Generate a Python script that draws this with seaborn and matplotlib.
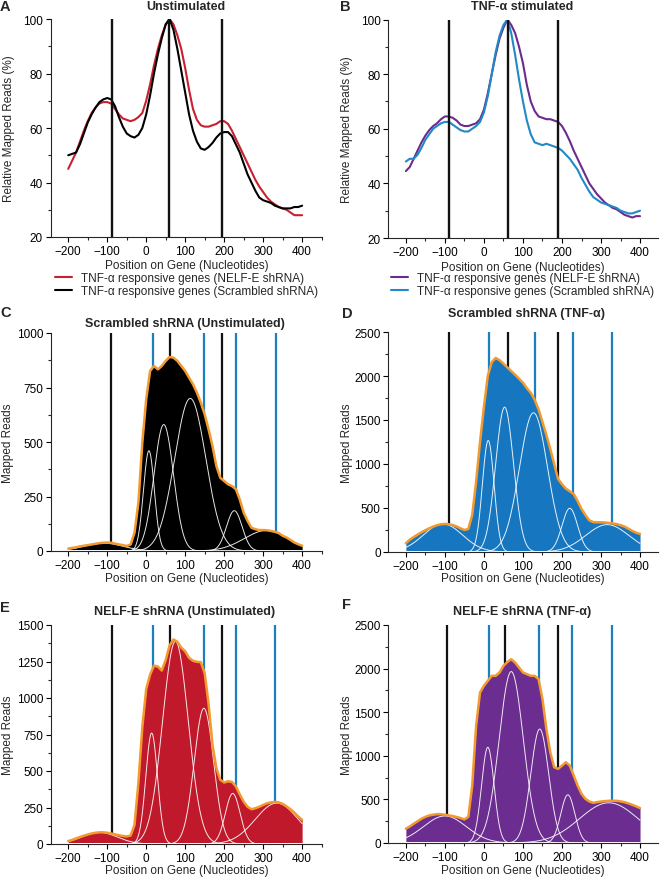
import numpy as np
import matplotlib
matplotlib.use("Agg")
import matplotlib.pyplot as plt
from matplotlib.ticker import MultipleLocator
import seaborn as sns

sns.set_theme(style="ticks")
plt.rcParams['font.family'] = ['Liberation Sans', 'DejaVu Sans']
plt.rcParams['axes.linewidth'] = 0.8

# positions on gene (nt), shared by every series
pos = list(range(-200, 401, 10))

# --- panel A: relative mapped reads, unstimulated ---
a_nelf = [45, 48, 51, 55, 59, 62.5, 65.5, 67.5, 69, 69.5,
          69.5, 69, 67, 65, 63.5, 63, 62.5, 63, 64, 65.5,
          70, 76, 83, 89, 94, 98, 100, 98, 94, 89,
          82, 74, 67, 63, 61, 60.5, 60.5, 61, 61.5, 62.5,
          62.5, 61.5, 59, 56, 53, 50, 47, 44, 41, 38.5,
          36.5, 34.5, 33, 32, 31, 30.5, 30, 29, 28, 28,
          28]
a_scr = [50, 50.5, 51, 54, 58, 62, 65, 67.5, 69.5, 70.5,
         71, 70.5, 68, 64, 60.5, 58, 57, 56.5, 57.5, 60,
         65, 72, 80, 87, 93, 98, 100, 96, 89, 81,
         73, 65, 59, 55, 52.5, 52, 53, 54.5, 56.5, 58,
         58.5, 58.5, 57, 54, 51, 47, 43, 40, 37, 34.5,
         33.5, 33, 32.5, 31.5, 31, 30.5, 30.5, 30.5, 31, 31,
         31.5]

# --- panel B: relative mapped reads, TNF-alpha stimulated ---
b_nelf = [44.5, 46, 49, 52, 55, 57.5, 59.5, 61, 62, 63.5,
          64.5, 64.5, 64, 63, 61.5, 61, 61, 61.5, 62, 63.5,
          67, 73, 80, 87, 93, 97, 100, 98, 95, 90,
          84, 76, 70, 66.5, 64.5, 64, 63.5, 63.5, 63, 62.5,
          61, 58.5, 55.5, 52, 49, 46, 43, 40, 38, 36,
          34.5, 33, 32, 31, 30.5, 29.5, 28.5, 28, 27.5, 28,
          28]
b_scr = [48, 49, 49, 50.5, 53, 56, 58, 60, 61, 62,
         62.5, 62.5, 61.5, 60.5, 59.5, 59, 59, 60, 61, 62.5,
         66, 72, 80, 88, 94, 98, 100, 95, 87, 78,
         70, 63, 58, 55, 54.5, 54, 54.5, 54, 53.5, 53,
         52, 50.5, 49, 47, 45, 42, 39.5, 37, 35, 34,
         33, 32.5, 32, 31.5, 31, 30, 29.5, 29, 29, 29.5,
         30]

# --- panels C-F: mapped reads ---
c_reads = [11, 14, 17, 21, 24, 27, 30, 33, 36, 38,
           39, 38, 34, 30, 27, 23, 30, 84, 222, 497,
           696, 826, 849, 833, 849, 872, 890, 887, 872, 849,
           826, 795, 765, 727, 681, 627, 558, 482, 390, 336,
           321, 306, 298, 283, 237, 176, 138, 107, 100, 96,
           96, 95, 92, 88, 82, 70, 62, 51, 39, 31,
           24]
d_reads = [100, 140, 170, 198, 224, 248, 270, 288, 305, 315,
           319, 316, 307, 290, 269, 250, 262, 420, 800, 1250,
           1650, 2004, 2157, 2205, 2180, 2140, 2098, 2055, 2014, 1970,
           1923, 1860, 1810, 1730, 1620, 1477, 1330, 1170, 1000, 830,
           770, 720, 690, 659, 580, 489, 420, 360, 340, 338,
           338, 336, 330, 325, 318, 305, 290, 265, 240, 220,
           205]
e_reads = [20, 28, 38, 48, 57, 65, 72, 77, 80, 80,
           77, 72, 66, 60, 55, 52, 58, 130, 420, 800,
           1062, 1160, 1222, 1215, 1188, 1260, 1360, 1401, 1385, 1345,
           1320, 1275, 1255, 1248, 1246, 1170, 960, 680, 520, 440,
           421, 430, 425, 395, 340, 290, 255, 238, 245, 255,
           268, 279, 285, 288, 285, 275, 258, 238, 215, 188,
           165]
f_reads = [164, 190, 221, 250, 278, 300, 316, 325, 331, 330,
           324, 317, 309, 298, 286, 270, 300, 659, 1345, 1726,
           1803, 1860, 1917, 1917, 1955, 2031, 2077, 2107, 2069, 2012,
           1955, 1936, 1917, 1917, 1879, 1650, 1307, 1040, 869, 850,
           888, 926, 888, 774, 659, 564, 507, 476, 461, 469,
           476, 480, 484, 484, 484, 477, 469, 455, 438, 420,
           400]

# fitted Gaussian components (centre, height, sigma)
c_centers = [-110, 7, 45, 113, 226, 310]
c_heights = [36, 460, 580, 700, 185, 95]
c_sigmas = [50, 14, 25, 40, 20, 58]
d_centers = [-105, 11, 53, 127, 220, 316]
d_heights = [320, 1267, 1646, 1582, 497, 311]
d_sigmas = [50, 15, 23, 36, 20, 55]
e_centers = [-120, 14, 75, 148, 222, 335]
e_heights = [80, 760, 1388, 930, 346, 280]
e_sigmas = [45, 15, 33, 25, 19, 55]
f_centers = [-100, 10, 70, 143, 215, 320]
f_heights = [310, 1098, 1966, 1307, 553, 461]
f_sigmas = [55, 16, 31, 23, 18, 75]

# marker positions (nt)
a_black = [-88, 58, 194]
b_black = [-90, 61, 189]
c_black = [-90, 60, 195]
c_blue = [17, 147, 231, 332]
d_black = [-89, 62, 189]
d_blue = [12, 130, 228, 329]
e_black = [-89, 60, 195]
e_blue = [18, 148, 231, 331]
f_black = [-95, 55, 189]
f_blue = [12, 142, 226, 327]

RED = '#c8202f'
PURPLE = '#6c2b8e'
LBLUE = '#2189c6'
ORANGE = '#f29a2e'
VBLUE = '#1b7fc4'
XLAB = "Position on Gene (Nucleotides)"

W, H = 660, 878
fig = plt.figure(figsize=(W / 100, H / 100), dpi=100)


def px_axes(left, top, right, bottom):
    return fig.add_axes([left / W, 1 - bottom / H, (right - left) / W, (bottom - top) / H])


def style(ax, xlim, ylim, ymaj, ymin, ylabel, ylab_x, xlab_y):
    ax.set_xlim(*xlim)
    ax.set_ylim(*ylim)
    ax.xaxis.set_major_locator(MultipleLocator(100))
    ax.xaxis.set_minor_locator(MultipleLocator(50))
    ax.yaxis.set_major_locator(MultipleLocator(ymaj))
    ax.yaxis.set_minor_locator(MultipleLocator(ymin))
    sns.despine(ax=ax)
    ax.tick_params(which='major', length=3.5, width=0.8, pad=2, labelsize=8.5,
                   direction='out', colors='black')
    ax.tick_params(which='minor', length=2.2, width=0.8, direction='out')
    ax.set_xlabel(XLAB, fontsize=8.5)
    ax.set_ylabel(ylabel, fontsize=8.5)
    ax.yaxis.set_label_coords(ylab_x, 0.5)
    ax.xaxis.set_label_coords(0.5, xlab_y)
    ax.grid(False)
    if ax.get_legend() is not None:
        ax.get_legend().remove()


def fig_text(x, y, s, **kw):
    fig.text(x / W, 1 - y / H, s, va='center', **kw)


def profile_panel(ax, nelf, scr, nelf_color, scr_color, blacks):
    for xv in blacks:
        ax.axvline(xv, color='#111111', lw=1.7, zorder=3)
    sns.lineplot(x=pos, y=nelf, color=nelf_color, lw=1.5, ax=ax, zorder=2,
                 label="TNF-\u03b1 responsive genes (NELF-E shRNA)")
    sns.lineplot(x=pos, y=scr, color=scr_color, lw=1.5, ax=ax, zorder=2,
                 label="TNF-\u03b1 responsive genes (Scrambled shRNA)")
    handles, labels = ax.get_legend_handles_labels()
    return handles, labels


def reads_panel(ax, reads, fill_color, centers, heights, sigmas, blacks, blues):
    for xv in blacks:
        ax.axvline(xv, color='#111111', lw=1.6, zorder=1)
    for xv in blues:
        ax.axvline(xv, color=VBLUE, lw=1.6, zorder=1)
    ax.fill_between(pos, reads, 0, color=fill_color, lw=0, zorder=2)
    xs = np.linspace(-200, 400, 601)
    for c, h, s in zip(centers, heights, sigmas):
        ax.plot(xs, h * np.exp(-0.5 * ((xs - c) / s) ** 2), color='white', lw=0.7,
                alpha=0.9, zorder=3)
    sns.lineplot(x=pos, y=reads, color=ORANGE, lw=1.8, ax=ax, zorder=4)


XL_L = (-245, 451)
XL_R = (-245, 446)
leg_kw = dict(loc='center left', frameon=False, borderpad=0, borderaxespad=0,
              handlelength=1.45, handletextpad=0.75, labelspacing=0.12, fontsize=8.5)

# A
axA = px_axes(50.7, 20, 322, 238)
hA, lA = profile_panel(axA, a_nelf, a_scr, RED, 'black', a_black)
style(axA, XL_L, (20, 100), 20, 10, "Relative Mapped Reads (%)", -0.132, -0.103)
fig.legend(hA, lA, bbox_to_anchor=(55 / W, 1 - 285.5 / H), **leg_kw)

# B
axB = px_axes(388.3, 20.5, 658, 239)
hB, lB = profile_panel(axB, b_nelf, b_scr, PURPLE, LBLUE, b_black)
style(axB, XL_R, (20, 100), 20, 10, "Relative Mapped Reads (%)", -0.131, -0.103)
fig.legend(hB, lB, bbox_to_anchor=(391 / W, 1 - 285.5 / H), **leg_kw)

# C
axC = px_axes(50.7, 334, 322, 552)
reads_panel(axC, c_reads, 'black', c_centers, c_heights, c_sigmas, c_black, c_blue)
style(axC, XL_L, (0, 1000), 250, 125, "Mapped Reads", -0.137, -0.096)

# D
axD = px_axes(388.3, 333, 658, 553)
reads_panel(axD, d_reads, '#1776c0', d_centers, d_heights, d_sigmas, d_black, d_blue)
style(axD, XL_R, (0, 2500), 500, 250, "Mapped Reads", -0.131, -0.091)

# E
axE = px_axes(50.7, 626, 322, 845)
reads_panel(axE, e_reads, '#c0192c', e_centers, e_heights, e_sigmas, e_black, e_blue)
style(axE, XL_L, (0, 1500), 250, 125, "Mapped Reads", -0.137, -0.091)

# F
axF = px_axes(388.3, 626, 658, 844)
reads_panel(axF, f_reads, '#6b2d8f', f_centers, f_heights, f_sigmas, f_black, f_blue)
style(axF, XL_R, (0, 2500), 500, 250, "Mapped Reads", -0.131, -0.096)

# titles and panel letters
tkw = dict(ha='center', fontsize=9, fontweight='bold')
fig_text(186, 7, "Unstimulated", **tkw)
fig_text(522, 7, "TNF-\u03b1 stimulated", **tkw)
fig_text(185, 324, "Scrambled shRNA (Unstimulated)", **tkw)
fig_text(527, 314, "Scrambled shRNA (TNF-\u03b1)", **tkw)
fig_text(185, 612, "NELF-E shRNA (Unstimulated)", **tkw)
fig_text(522, 612, "NELF-E shRNA (TNF-\u03b1)", **tkw)

lkw = dict(ha='left', fontsize=10.5, fontweight='bold')
fig_text(0, 7, "A", **lkw)
fig_text(340, 7, "B", **lkw)
fig_text(0, 313, "C", **lkw)
fig_text(342, 314, "D", **lkw)
fig_text(0, 608, "E", **lkw)
fig_text(342, 605, "F", **lkw)

fig.savefig("out.png", dpi=100)
